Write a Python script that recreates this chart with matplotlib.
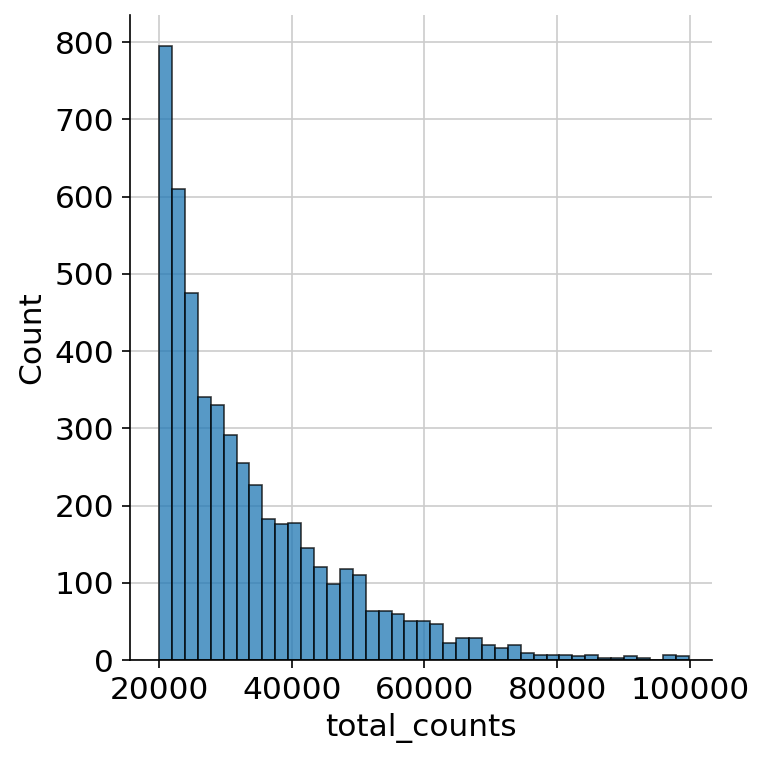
import numpy as np
import matplotlib
matplotlib.use("Agg")
import matplotlib.pyplot as plt
import seaborn as sns

bin_start = 20000
bin_end = 99790
n_bins = 41
counts = [795, 610, 475, 340, 330, 291, 255, 226, 183, 176, 178, 145, 121, 99, 118,
          110, 64, 64, 59, 50, 50, 46, 22, 29, 28, 20, 15, 19, 9, 6,
          6, 7, 5, 6, 2, 2, 5, 2, 0, 6, 5]

sns.set_style("whitegrid")
plt.rcParams['font.family'] = ['DejaVu Sans']
fig = plt.figure(figsize=(766/150, 763/150), dpi=150)
ax = fig.add_axes([130/766, 1-660/763, (712-130)/766, (660-15)/763])
edges = np.linspace(bin_start, bin_end, n_bins + 1)
ax.hist(edges[:-1], bins=edges, weights=counts, color='#1f77b4', alpha=0.75,
        edgecolor='black', linewidth=0.8)
ax.set_xlim(15631, 103315)
ax.set_ylim(0, 835)
ax.set_xticks([20000, 40000, 60000, 80000, 100000])
ax.set_yticks(range(0, 801, 100))
ax.tick_params(labelsize=15, left=True, bottom=True, length=4, labelcolor='black', color='black')
ax.set_xlabel('total_counts', fontsize=15, color='black')
ax.set_ylabel('Count', fontsize=15, color='black')
sns.despine(ax=ax)
for s in ['left', 'bottom']:
    ax.spines[s].set_color('black')
fig.savefig('out.png', dpi=150)
